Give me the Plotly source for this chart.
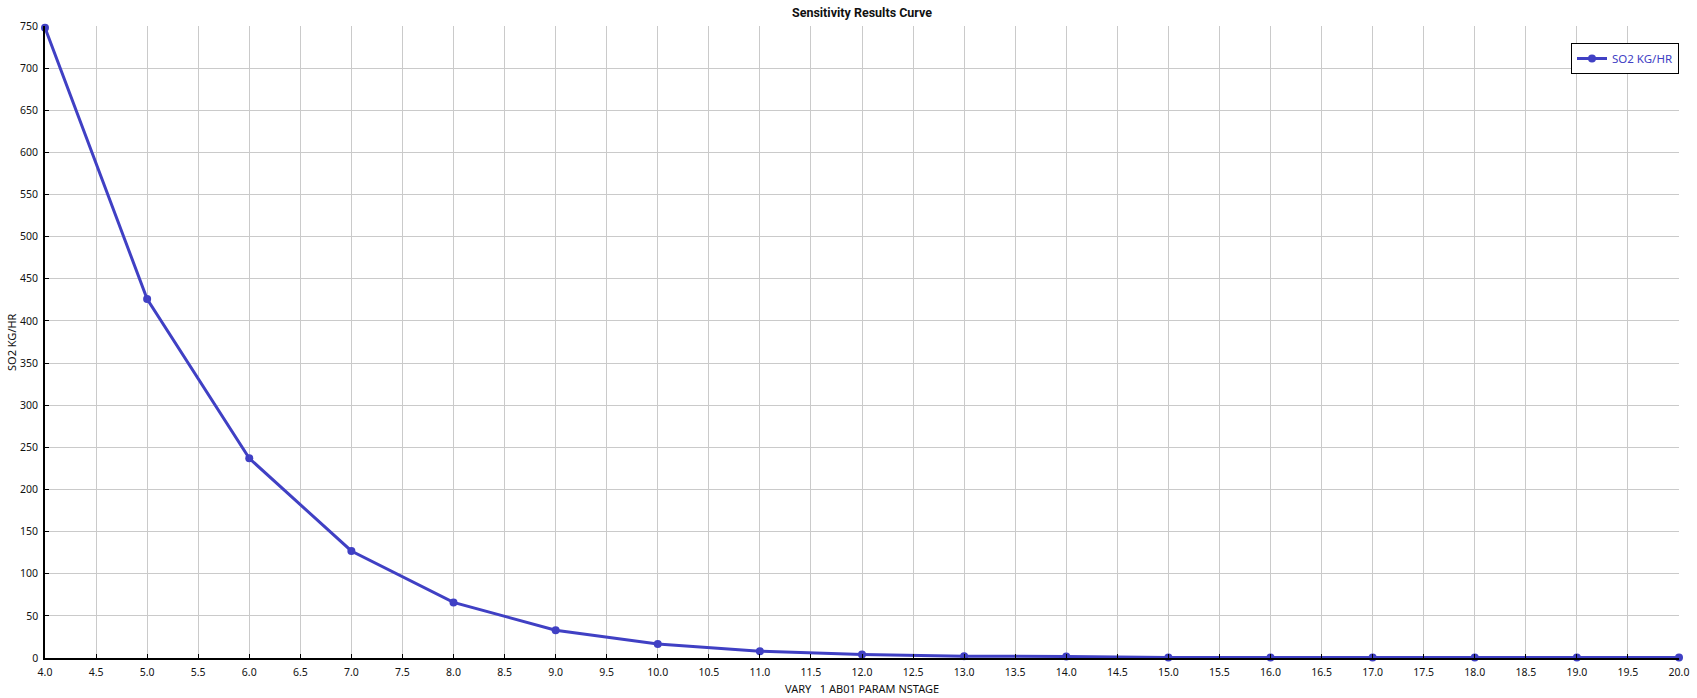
import plotly.graph_objects as go

stages = [4, 5, 6, 7, 8, 9, 10, 11, 12, 13, 14, 15, 16, 17, 18, 19, 20]
so2_kg_hr = [748, 426, 237, 127, 66, 33, 16.5, 8, 4.2, 2.2, 1.8, 0.6, 0.5, 0.5, 0.5, 0.5, 0.5]
x_ticks = [4 + 0.5 * i for i in range(33)]
x_tick_labels = [f"{v:.1f}" for v in x_ticks]
y_ticks = list(range(0, 751, 50))

color = "#4040C4"
font = "Noto Sans, DejaVu Sans, sans-serif"

W, H = 1697, 698
L, R, T, B = 45, 18, 26, 40
pw, ph = W - L - R, H - T - B

fig = go.Figure()
fig.add_trace(go.Scatter(
    x=stages, y=so2_kg_hr, mode="lines+markers", name="SO2 KG/HR",
    line=dict(color=color, width=3),
    marker=dict(color=color, size=8),
    cliponaxis=False,
))

fig.update_layout(
    width=W, height=H,
    paper_bgcolor="white", plot_bgcolor="white",
    margin=dict(l=L, r=R, t=T, b=B, autoexpand=False),
    font=dict(family=font, size=11, color="#111111"),
    title=dict(text="<b>Sensitivity Results Curve</b>", xref="paper", x=0.5, xanchor="center",
               y=1 - 13 / H, yanchor="middle",
               font=dict(family="Roboto, Noto Sans, sans-serif", size=12.5, color="#111111")),
    showlegend=True,
    legend=dict(x=1.0, xanchor="right", y=1 - (43 - T) / ph, yanchor="top",
                bordercolor="black", borderwidth=1, bgcolor="white",
                font=dict(size=11.5, color=color)),
)
fig.update_xaxes(
    range=[4, 20], tickvals=x_ticks, ticktext=x_tick_labels,
    showgrid=True, gridcolor="#CACACA", gridwidth=1,
    showline=True, linecolor="black", linewidth=1.5,
    ticks="inside", ticklen=4, tickcolor="black", zeroline=False,
    ticklabelstandoff=4, automargin=False,
    tickfont=dict(size=10.5),
)
fig.update_yaxes(
    range=[0, 750], tickvals=y_ticks,
    showgrid=True, gridcolor="#CACACA", gridwidth=1,
    showline=True, linecolor="black", linewidth=1.5,
    ticks="inside", ticklen=4, tickcolor="black", zeroline=False,
    ticklabelstandoff=3, automargin=False,
    tickfont=dict(size=10.5),
)
fig.add_annotation(text="VARY\u00a0\u00a0\u00a01 AB01 PARAM NSTAGE", xref="paper", yref="paper",
                   x=0.5, y=-(688 - (H - B)) / ph,
                   xanchor="center", yanchor="middle", showarrow=False,
                   font=dict(size=11, color="#111111"))
fig.add_annotation(text="SO2 KG/HR", xref="paper", yref="paper",
                   x=-(L - 11) / pw, y=0.5, textangle=-90,
                   xanchor="center", yanchor="middle", showarrow=False,
                   font=dict(size=11, color="#111111"))

fig.write_html("out.html", config={"displayModeBar": False},
               post_script="document.body.style.margin='0';document.body.style.overflow='hidden';")
